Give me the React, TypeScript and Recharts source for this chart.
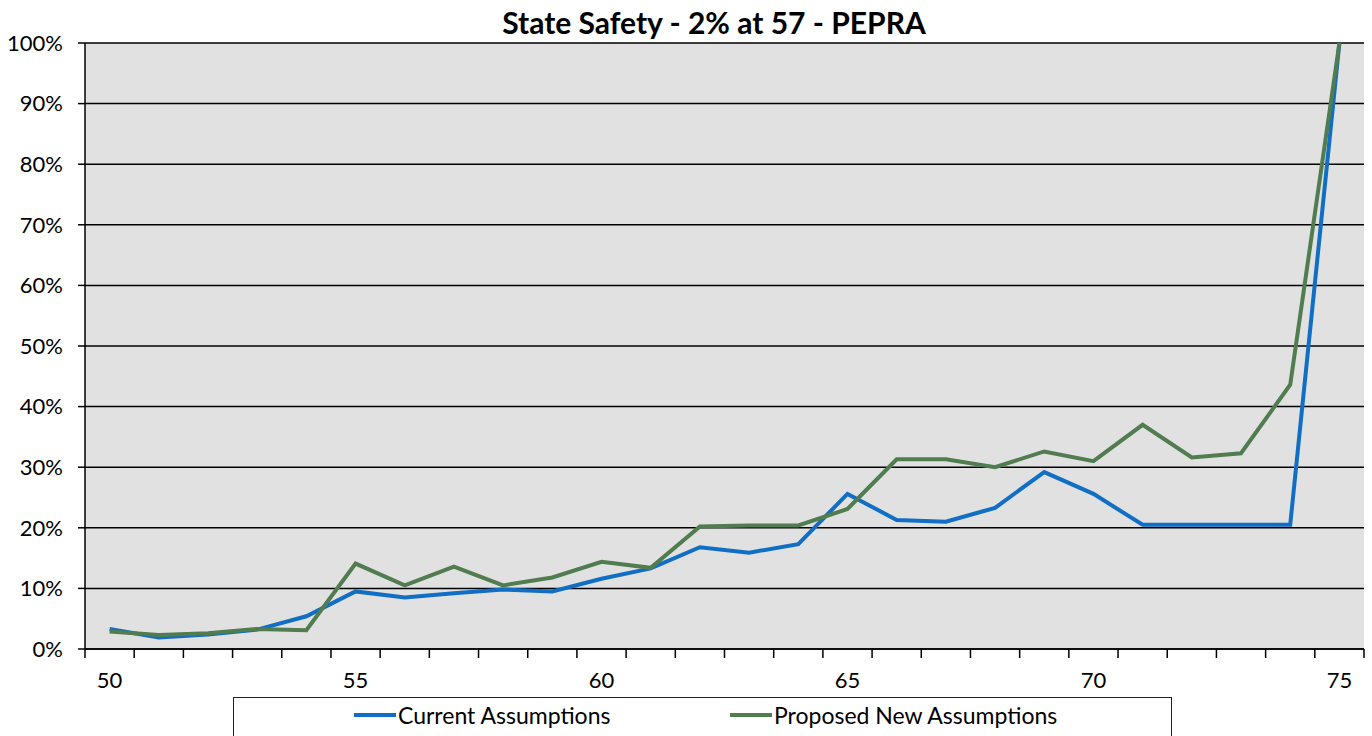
import React from 'react';
import { LineChart, Line, XAxis, YAxis, CartesianGrid } from 'recharts';

const ages = [50, 51, 52, 53, 54, 55, 56, 57, 58, 59, 60, 61, 62, 63, 64, 65, 66, 67, 68, 69, 70, 71, 72, 73, 74, 75];
const currentAssumptions = [
  0.033, 0.019, 0.024, 0.032, 0.054, 0.095, 0.085, 0.092, 0.098, 0.095, 0.116, 0.133, 0.168, 0.159, 0.173,
  0.256, 0.213, 0.21, 0.233, 0.292, 0.256, 0.205, 0.205, 0.205, 0.205, 1.0,
];
const proposedNewAssumptions = [
  0.029, 0.023, 0.026, 0.033, 0.031, 0.141, 0.105, 0.136, 0.105, 0.118, 0.144, 0.134, 0.202, 0.204, 0.204,
  0.231, 0.313, 0.313, 0.3, 0.326, 0.31, 0.37, 0.316, 0.323, 0.436, 1.0,
];
const yTicks = [0, 0.1, 0.2, 0.3, 0.4, 0.5, 0.6, 0.7, 0.8, 0.9, 1.0];
const xLabelTicks = [50, 55, 60, 65, 70, 75];
const seriesNames = ['Current Assumptions', 'Proposed New Assumptions'];
const title = 'State Safety - 2% at 57 - PEPRA';

const data = ages.map((age, i) => ({
  age,
  current: currentAssumptions[i],
  proposed: proposedNewAssumptions[i],
}));
const xTickMarks = [...ages.map((a) => a - 0.5), ages[ages.length - 1] + 0.5];
const xDomain = [ages[0] - 0.5, ages[ages.length - 1] + 0.5];

const BLUE = '#106ec4';
const GREEN = '#507c50';
const FONT = 'Lato, "Liberation Sans", sans-serif';

export default function App() {
  return (
    <div style={{ position: 'absolute', left: 0, top: 0, width: 1372, height: 736, background: '#fff', overflow: 'hidden', fontFamily: FONT }}>
      <div
        style={{
          position: 'absolute',
          left: 0,
          width: 1428,
          top: 5,
          textAlign: 'center',
          fontWeight: 700,
          fontSize: 30,
          color: '#000',
          lineHeight: '34px',
        }}
      >
        {title}
      </div>
      <div style={{ position: 'absolute', left: 0, top: 0 }}>
        <LineChart width={1372} height={736} data={data} margin={{ top: 43, right: 8, left: 0, bottom: 47 }}>
          <CartesianGrid
            xAxisId={0}
            yAxisId="left"
            vertical={false}
            stroke="#000"
            strokeWidth={1.5}
            fill="#e1e1e1"
            fillOpacity={1}
          />
          <XAxis
            xAxisId={0}
            dataKey="age"
            type="number"
            domain={xDomain}
            ticks={xTickMarks}
            tickFormatter={() => ''}
            tickSize={9}
            height={10}
            interval={0}
            axisLine={{ stroke: '#000', strokeWidth: 1.5 }}
            tickLine={{ stroke: '#000', strokeWidth: 1.5 }}
            allowDataOverflow
          />
          <XAxis
            xAxisId={1}
            dataKey="age"
            type="number"
            domain={xDomain}
            ticks={xLabelTicks}
            tickSize={0}
            tickMargin={13}
            height={30}
            axisLine={false}
            tickLine={false}
            interval={0}
            tick={{ fill: '#000', fontSize: 22, fontFamily: FONT }}
            allowDataOverflow
          />
          <YAxis
            yAxisId="left"
            type="number"
            domain={[0, 1]}
            ticks={yTicks}
            width={85}
            tickSize={7}
            tickMargin={15}
            interval={0}
            tickFormatter={(v: number) => `${Math.round(v * 100)}%`}
            axisLine={{ stroke: '#000', strokeWidth: 1.5 }}
            tickLine={{ stroke: '#000', strokeWidth: 1.5 }}
            tick={{ fill: '#000', fontSize: 22, fontFamily: FONT }}
          />
          <YAxis
            yAxisId="right"
            orientation="right"
            type="number"
            domain={[0, 1]}
            width={0}
            tick={false}
            tickLine={false}
            axisLine={{ stroke: '#333', strokeWidth: 1.5 }}
          />
          <Line
            xAxisId={0}
            yAxisId="left"
            type="linear"
            dataKey="current"
            name={seriesNames[0]}
            stroke={BLUE}
            strokeWidth={4}
            dot={false}
            isAnimationActive={false}
          />
          <Line
            xAxisId={0}
            yAxisId="left"
            type="linear"
            dataKey="proposed"
            name={seriesNames[1]}
            stroke={GREEN}
            strokeWidth={4}
            dot={false}
            isAnimationActive={false}
          />
        </LineChart>
      </div>
      <div
        style={{
          position: 'absolute',
          left: 233,
          top: 697,
          width: 939,
          height: 60,
          border: '1.5px solid #222',
          boxSizing: 'border-box',
          background: '#fff',
        }}
      >
        <div style={{ position: 'absolute', left: 120, top: 3, display: 'flex', alignItems: 'center', fontSize: 23, color: '#000', whiteSpace: 'nowrap' }}>
          <span style={{ display: 'inline-block', width: 42, height: 4, background: BLUE, marginRight: 2 }} />
          <span>{seriesNames[0]}</span>
        </div>
        <div style={{ position: 'absolute', left: 496, top: 3, display: 'flex', alignItems: 'center', fontSize: 23, color: '#000', whiteSpace: 'nowrap' }}>
          <span style={{ display: 'inline-block', width: 42, height: 4, background: GREEN, marginRight: 2 }} />
          <span>{seriesNames[1]}</span>
        </div>
      </div>
    </div>
  );
}
